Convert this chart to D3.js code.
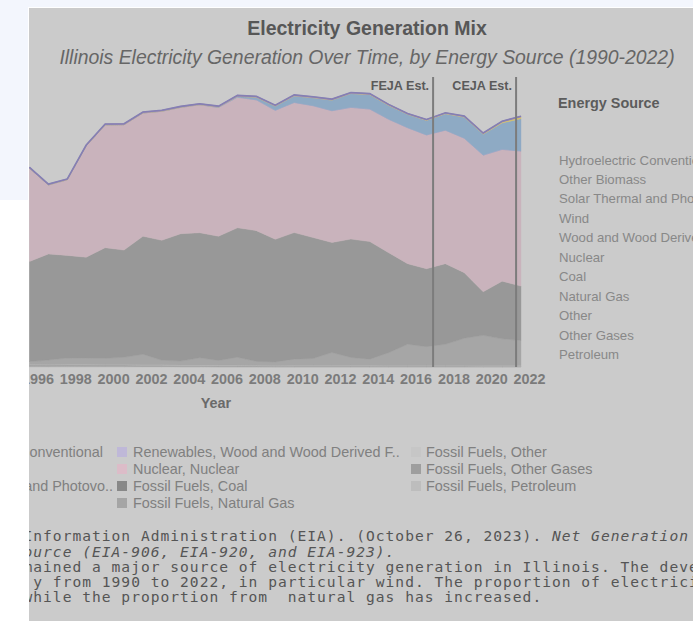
<!DOCTYPE html>
<html><head><meta charset="utf-8">
<script src="https://cdn.jsdelivr.net/npm/d3@7"></script>
<style>html,body{margin:0;padding:0;background:#fff;} svg{display:block;}</style>
</head><body><svg id="c" width="693" height="621"></svg>
<script>
// ---------------- data (TWh) ----------------
const years = [1996,1997,1998,1999,2000,2001,2002,2003,2004,2005,2006,2007,2008,2009,2010,2011,2012,2013,2014,2015,2016,2017,2018,2019,2020,2021,2022];
const petroleum  = [0.6,0.5,0.7,0.6,0.5,0.5,0.4,0.4,0.3,0.3,0.2,0.2,0.2,0.1,0.1,0.1,0.1,0.1,0.1,0.1,0.1,0.1,0.1,0.1,0.1,0.1,0.1];
const otherGases = [0.9,0.9,0.9,0.9,0.9,0.9,0.8,0.8,0.8,0.8,0.8,0.8,0.7,0.6,0.7,0.7,0.7,0.7,0.7,0.6,0.6,0.6,0.6,0.6,0.5,0.5,0.5];
const other      = [0.4,0.4,0.4,0.4,0.4,0.4,0.4,0.4,0.4,0.4,0.4,0.4,0.4,0.4,0.4,0.4,0.4,0.4,0.4,0.4,0.4,0.4,0.4,0.4,0.4,0.4,0.4];
const naturalGas = [2.0,3.2,4.4,4.4,4.4,5.1,7.5,3.2,2.7,5.1,3.2,5.6,2.7,2.5,4.4,4.9,9.1,5.6,4.4,9.1,15.1,13.4,15.1,19.4,21.6,19.1,18.0];
const coal       = [71.4,75.7,73.3,72.1,79.0,76.6,84.3,85.7,91.0,89.3,88.8,92.4,93.4,87.6,90.4,86.4,78.6,84.6,84.0,71.4,57.6,55.7,57.6,46.9,31.1,41.2,38.8];
const nuclear    = [66.7,49.3,54.0,79.5,87.6,89.5,88.0,92.1,90.2,91.4,91.9,93.3,93.4,92.1,92.9,94.1,94.1,94.0,94.6,95.3,97.1,95.5,95.3,96.0,97.6,94.1,96.4];
const wood       = [0.05,0.05,0.05,0.05,0.05,0.05,0.05,0.05,0.05,0.05,0.05,0.05,0.05,0.05,0.05,0.05,0.05,0.05,0.05,0.05,0.05,0.05,0.05,0.05,0.05,0.05,0.05];
const wind       = [0,0,0,0,0,0,0,0.01,0.02,0.03,0.3,0.6,1.8,3.0,4.7,5.7,7.6,9.9,10.3,9.9,9.5,10.4,11.7,15.0,14.9,18.8,23.1];
const solar      = [0,0,0,0,0,0,0,0,0,0,0,0,0,0,0,0,0.02,0.03,0.04,0.05,0.06,0.1,0.15,0.2,0.3,0.7,1.2];
const biomass    = [0.5,0.5,0.5,0.5,0.6,0.6,0.6,0.6,0.6,0.6,0.6,0.6,0.6,0.6,0.6,0.6,0.6,0.6,0.6,0.6,0.5,0.5,0.5,0.5,0.5,0.5,0.5];
const hydro      = [0.1,0.1,0.1,0.1,0.1,0.1,0.1,0.1,0.1,0.1,0.1,0.1,0.1,0.1,0.1,0.1,0.1,0.1,0.1,0.1,0.1,0.1,0.1,0.1,0.1,0.1,0.1];

const tickYears = [1996,1998,2000,2002,2004,2006,2008,2010,2012,2014,2016,2018,2020,2022];
const policyNames = ["FEJA Est.", "CEJA Est."];
const policyYears = [2017.35, 2021.74];

const sourceNames = ["Hydroelectric Conventio","Other Biomass","Solar Thermal and Pho","Wind","Wood and Wood Derive","Nuclear","Coal","Natural Gas","Other","Other Gases","Petroleum"];
const legendCol1 = ["Conventional", "", "and Photovo..", ""];
const legendCol2 = ["Renewables, Wood and Wood Derived F..","Nuclear, Nuclear","Fossil Fuels, Coal","Fossil Fuels, Natural Gas"];
const legendCol3 = ["Fossil Fuels, Other","Fossil Fuels, Other Gases","Fossil Fuels, Petroleum"];

const footLines = [
  [["Information Administration (EIA). (October 26, 2023). ", false], ["Net Generation", true]],
  [["ource (EIA-906, EIA-920, and EIA-923).", true]],
  [["mained a major source of electricity generation in Illinois. The deve", false]],
  [[" y from 1990 to 2022, in particular wind. The proportion of electrici", false]],
  [["while the proportion from  natural gas has increased.", false]]
];

// ---------------- series / colours ----------------
const series = [
  {key:"petroleum", vals:petroleum, color:"#b1b1b1"},
  {key:"otherGases", vals:otherGases, color:"#a2a2a2"},
  {key:"other", vals:other, color:"#b8b8b8"},
  {key:"naturalGas", vals:naturalGas, color:"#a6a6a6"},
  {key:"coal", vals:coal, color:"#989898"},
  {key:"nuclear", vals:nuclear, color:"#c9b3bc"},
  {key:"wood", vals:wood, color:"#aaa2c8"},
  {key:"wind", vals:wind, color:"#8eaac4"},
  {key:"solar", vals:solar, color:"#d6c26a"},
  {key:"biomass", vals:biomass, color:"#a893b0"},
  {key:"hydro", vals:hydro, color:"#8b84b6"}
];
const rows = years.map((yr,i)=>{const r={year:yr}; series.forEach(s=>r[s.key]=s.vals[i]); return r;});
const stacked = d3.stack().keys(series.map(s=>s.key))(rows);

const svg = d3.select("#c");
const FONT = "Arial, 'Liberation Sans', sans-serif";

// page background
svg.append("rect").attr("x",0).attr("y",0).attr("width",693).attr("height",200).attr("fill","#f3f6fd");
svg.append("rect").attr("x",28).attr("y",7).attr("width",666).attr("height",615).attr("fill","#ffffff");
svg.append("rect").attr("x",29).attr("y",8).attr("width",664).attr("height",613).attr("fill","#cbcbcb");
svg.append("defs").append("clipPath").attr("id","panel")
  .append("rect").attr("x",29).attr("y",8).attr("width",664).attr("height",613);
const g = svg.append("g").attr("clip-path","url(#panel)");

// titles
g.append("text").attr("x",367).attr("y",35).attr("text-anchor","middle")
  .attr("font-family",FONT).attr("font-size",19.5).attr("font-weight","bold").attr("fill","#575757")
  .text("Electricity Generation Mix");
g.append("text").attr("x",367).attr("y",64).attr("text-anchor","middle")
  .attr("font-family",FONT).attr("font-size",19.4).attr("font-style","italic").attr("fill","#666666")
  .text("Illinois Electricity Generation Over Time, by Energy Source (1990-2022)");

// scales
const x = d3.scaleLinear().domain([1996,2022]).range([29.5,521]);
const y = d3.scaleLinear().domain([0,200]).range([367,87]);

// areas
const area = d3.area().x(d=>x(d.data.year)).y0(d=>y(d[0])).y1(d=>y(d[1]));
g.append("g").selectAll("path").data(stacked).join("path")
  .attr("d",area).attr("fill",(d,i)=>series[i].color).attr("stroke",(d,i)=>series[i].color).attr("stroke-width",0.4);
// top outline
const topLayer = stacked[stacked.length-1];
g.append("path").datum(topLayer)
  .attr("d",d3.line().x(d=>x(d.data.year)).y(d=>y(d[1])))
  .attr("fill","none").attr("stroke","#857fb3").attr("stroke-width",1.6);

// policy lines
policyYears.forEach((py,i)=>{
  g.append("line").attr("x1",x(py)).attr("x2",x(py)).attr("y1",77).attr("y2",367)
    .attr("stroke","#7c7c7c").attr("stroke-width",2);
  g.append("text").attr("x",x(py)-4).attr("y",90).attr("text-anchor","end")
    .attr("font-family",FONT).attr("font-size",12.6).attr("font-weight","bold").attr("fill","#5a5a5a")
    .text(policyNames[i]);
});

// x axis
const xAxis = d3.axisBottom(x).tickValues(tickYears).tickFormat(d3.format("d")).tickSize(0).tickPadding(0);
const ax = g.append("g").attr("transform","translate(8,374)").call(xAxis);
ax.select(".domain").remove();
ax.selectAll("text").attr("font-family",FONT).attr("font-size",14.4).attr("font-weight","bold").attr("fill","#7b7b7b");
g.append("text").attr("x",216).attr("y",408).attr("text-anchor","middle")
  .attr("font-family",FONT).attr("font-size",14.4).attr("font-weight","bold").attr("fill","#6a6a6a").text("Year");

// right legend
g.append("text").attr("x",558).attr("y",108).attr("font-family",FONT).attr("font-size",14.4)
  .attr("font-weight","bold").attr("fill","#5c5c5c").text("Energy Source");
g.append("g").selectAll("text").data(sourceNames).join("text")
  .attr("x",559).attr("y",(d,i)=>164.5+i*19.45).attr("font-family",FONT).attr("font-size",13.2)
  .attr("fill","#888888").text(d=>d);

// bottom legend
const rowY = i=>457+i*17;
g.append("g").selectAll("text").data(legendCol1).join("text")
  .attr("x",(d,i)=>i===2?113:103).attr("y",(d,i)=>rowY(i)).attr("text-anchor","end")
  .attr("font-family",FONT).attr("font-size",14.4).attr("fill","#808080").text(d=>d);
const col2Colors = ["#bfb8d8","#dcbcc8","#888888","#a5a5a5"];
const col3Colors = ["#c6c6c6","#9e9e9e","#bdbdbd"];
legendCol2.forEach((t,i)=>{
  g.append("rect").attr("x",117).attr("y",rowY(i)-10).attr("width",10).attr("height",10).attr("fill",col2Colors[i]);
  g.append("text").attr("x",133).attr("y",rowY(i)).attr("font-family",FONT).attr("font-size",14.4).attr("fill","#808080").text(t);
});
legendCol3.forEach((t,i)=>{
  g.append("rect").attr("x",411).attr("y",rowY(i)-10).attr("width",10).attr("height",10).attr("fill",col3Colors[i]);
  g.append("text").attr("x",426).attr("y",rowY(i)).attr("font-family",FONT).attr("font-size",14.4).attr("fill","#808080").text(t);
});

// footnote
const footY = [541, 556.5, 572, 587, 602];
footLines.forEach((parts,i)=>{
  const t = g.append("text").attr("x",23.5).attr("y",footY[i]).attr("xml:space","preserve")
    .attr("font-family","'DejaVu Sans Mono', monospace").attr("font-size",14.6).attr("letter-spacing",1.0)
    .attr("fill","#555555");
  parts.forEach(p=>t.append("tspan").attr("font-style",p[1]?"italic":"normal").text(p[0]));
});
</script></body></html>
